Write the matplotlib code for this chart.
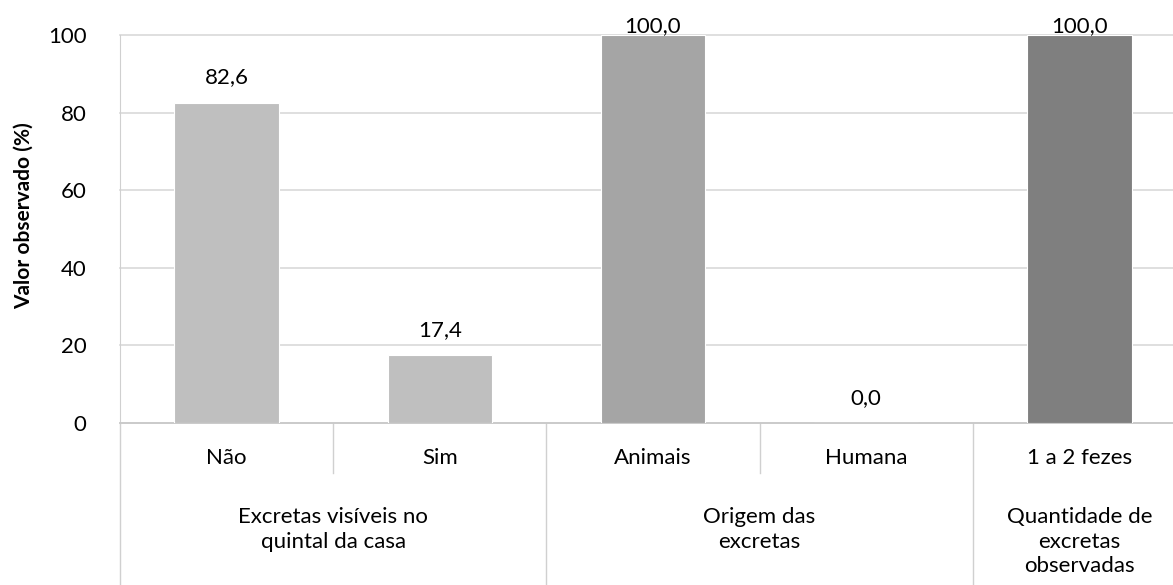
import matplotlib.pyplot as plt
from matplotlib.lines import Line2D

plt.rcParams['font.family'] = ['Lato', 'DejaVu Sans']

categorias = ['Não', 'Sim', 'Animais', 'Humana', '1 a 2 fezes']
valores = [82.6, 17.4, 100.0, 0.0, 100.0]
cores = ['#BFBFBF', '#BFBFBF', '#A5A5A5', '#A5A5A5', '#7F7F7F']
grupos = ['Excretas visíveis no\nquintal da casa', 'Origem das\nexcretas',
          'Quantidade de\nexcretas\nobservadas']
grupo_centro = [0.5, 2.5, 4]

fig = plt.figure(figsize=(11.73, 5.85), dpi=100)
# axes goes a bit past the right edge, like the cropped original
ax = fig.add_axes([120 / 1173, 162 / 585, 1066 / 1173, 388 / 585])

x = list(range(len(categorias)))
ax.bar(x, valores, width=0.49, color=cores, edgecolor='white', linewidth=0.8, zorder=3)

for xi, v in zip(x, valores):
    y = v + 6.5 if v + 6.5 < 100 else v + 2.2
    ax.text(xi, y, f'{v:.1f}'.replace('.', ','), ha='center', va='center',
            fontsize=16, color='#000000', zorder=4)

ax.set_xlim(-0.5, 4.5)
ax.set_ylim(0, 100)
ax.set_yticks([0, 20, 40, 60, 80, 100])
ax.tick_params(axis='y', length=0, pad=24, labelsize=16)
ax.set_xticks([])
ax.yaxis.grid(True, color='#D9D9D9', linewidth=1.2, zorder=0)
for gl in ax.get_ygridlines():
    gl.set_clip_on(False)

for s in ['top', 'right']:
    ax.spines[s].set_visible(False)
ax.spines['left'].set_color('#D0D0D0')
ax.spines['bottom'].set_color('#C8C8C8')
ax.spines['bottom'].set_linewidth(1.2)

ax.set_ylabel('Valor observado (%)', fontsize=15, fontweight='bold')
ax.yaxis.set_label_coords(-0.081, 0.535)

tr = ax.get_xaxis_transform()
for xi, c in zip(x, categorias):
    ax.text(xi, -0.09, c, transform=tr, ha='center', va='center', fontsize=16)
for gx, g in zip(grupo_centro, grupos):
    ax.text(gx, -0.216, g, transform=tr, ha='center', va='top', fontsize=16,
            linespacing=1.3)

# category separators (short) and group separators (full height)
for sx in [0.5, 2.5]:
    ax.add_line(Line2D([sx, sx], [0, -0.13], transform=tr, color='#D0D0D0',
                       lw=1, clip_on=False))
for sx in [-0.5, 1.5, 3.5]:
    ax.add_line(Line2D([sx, sx], [0, -0.45], transform=tr, color='#D0D0D0',
                       lw=1, clip_on=False))

fig.savefig('out.png', dpi=100)
